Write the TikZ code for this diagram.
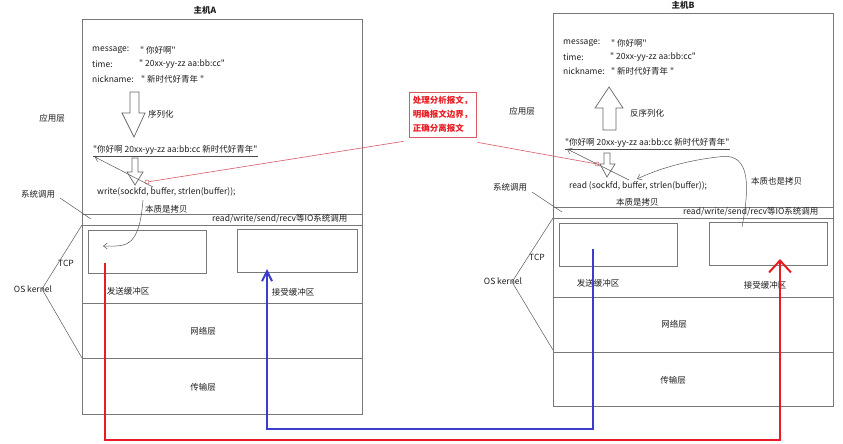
\documentclass[tikz,border=0pt]{standalone}
\usepackage{fontspec}
\newfontfamily\mainf{Noto Sans CJK SC}
\usetikzlibrary{arrows.meta}
\definecolor{boxgray}{RGB}{120,120,120}
\definecolor{txt}{RGB}{30,30,30}
\definecolor{redpath}{RGB}{232,28,36}
\definecolor{bluepath}{RGB}{60,60,205}
\definecolor{thinred}{RGB}{215,90,100}
\begin{document}
\begin{tikzpicture}[x=1pt,y=-1pt,
  every node/.style={inner sep=0pt, font=\mainf\fontsize{8.5}{10}\selectfont, text=txt},
  lbl/.style={anchor=west},
  boxline/.style={draw=boxgray, line width=0.8pt},
  thinline/.style={draw=black!65, line width=0.5pt},
  fatarrow/.style={draw=black!60, line width=0.7pt, fill=white},
  redthin/.style={draw=thinred, line width=0.6pt},
  tiparrow/.style={-{Straight Barb[length=4pt,width=6pt]}},
  redpathstyle/.style={draw=redpath, line width=2.2pt, line join=miter, -{Straight Barb[length=12pt,width=22pt,line width=2pt]}},
  bluepathstyle/.style={draw=bluepath, line width=2.2pt, line join=miter, -{Straight Barb[length=10pt,width=10pt,line width=2pt]}},
  ringstyle/.style={circle, draw=thinred, line width=0.5pt, minimum size=4pt}
]
\useasboundingbox (0,0) rectangle (843,444);
\fill[white] (0,0) rectangle (843,444);

% ---------------- Host A ----------------
\node[font=\mainf\bfseries\fontsize{8.5}{10}\selectfont] (titleA) at (205,10) {主机A};
\draw[boxline] (82,19) rectangle (362,414);
\draw[boxline] (82,214) -- (362,214);
\draw[boxline] (82,225) -- (362,225);
\draw[boxline] (82,303) -- (362,303);
\draw[boxline] (82,358) -- (362,358);
\draw[boxline] (88,230) rectangle (206,273);
\draw[boxline] (237,229) rectangle (357,272);

\node[lbl] (msgA) at (92,50) {message:};
\node[lbl] (msgvA) at (140,50) {" 你好啊"};
\node[lbl] (timeA) at (92,64) {time:};
\node[lbl] (timevA) at (139,64) {" 20xx-yy-zz aa:bb:cc"};
\node[lbl] (nickA) at (92,79) {nickname:};
\node[lbl] (nickvA) at (141,79) {" 新时代好青年 "};

\draw[fatarrow] (130,92) -- (139,92) -- (139,113) -- (145,113) -- (134,137) -- (122,113) -- (130,113) -- cycle;
\node[lbl] (serlabel) at (148,114) {序列化};

\node[lbl] (serA) at (93,150) {"你好啊 20xx-yy-zz aa:bb:cc 新时代好青年"};
\draw[black!70, line width=0.5pt] ([yshift=-1.5pt]serA.south west) -- ([yshift=-1.5pt]serA.south east);

\draw[fatarrow] (132,158) -- (138,158) -- (138,172) -- (143,172) -- (135,185) -- (127,172) -- (132,172) -- cycle;

\node[lbl] (writeA) at (97,192) {write(sockfd, buffer, strlen(buffer));};
\node[lbl] (copyA) at (145,209) {本质是拷贝};
\node[lbl] (ioA) at (212,219) {read/write/send/recv等IO系统调用};

\node (appA) at (52,118) {应用层};
\node (sysA) at (38,194) {系统调用};
\node (tcpA) at (66,263) {TCP};
\node (osA) at (33,289) {OS kernel};
\node (sendA) at (128,291) {发送缓冲区};
\node (recvA) at (293,292) {接受缓冲区};
\node (netA) at (203,331) {网络层};
\node (transA) at (203,387) {传输层};

\coordinate (sysAfrom) at (60,198);
\coordinate (sysAto) at (91,219);
\draw[thinline] (sysAfrom) -- (sysAto);
\coordinate (kAtop) at (82,225);
\coordinate (kAmid) at (42,289);
\coordinate (kAbot) at (82,358);
\draw[thinline] (kAtop) -- (kAmid) -- (kAbot);

\coordinate (bufA) at (153,187);
\coordinate (serAstart) at (95,157);
\draw[thinline, tiparrow] (bufA) -- (serAstart);

\coordinate (copyAstart) at (143,200);
\coordinate (copyAend) at (103,246);
\draw[thinline, tiparrow] (copyAstart) .. controls (139,250) and (125,246) .. (copyAend);

% ---------------- Host B ----------------
\node[font=\mainf\bfseries\fontsize{8.5}{10}\selectfont] (titleB) at (683,5) {主机B};
\draw[boxline] (553,13) rectangle (833,406);
\draw[boxline] (553,207) -- (833,207);
\draw[boxline] (553,218) -- (833,218);
\draw[boxline] (553,297) -- (833,297);
\draw[boxline] (553,352) -- (833,352);
\draw[boxline] (559,223) rectangle (677,266);
\draw[boxline] (709,222) rectangle (827,265);

\node[lbl] (msgB) at (563,43) {message:};
\node[lbl] (msgvB) at (611,43) {" 你好啊"};
\node[lbl] (timeB) at (563,57) {time:};
\node[lbl] (timevB) at (610,57) {" 20xx-yy-zz aa:bb:cc"};
\node[lbl] (nickB) at (563,71) {nickname:};
\node[lbl] (nickvB) at (611,71) {" 新时代好青年 "};

\draw[fatarrow] (603,130) -- (616,130) -- (616,108) -- (623,108) -- (609,87) -- (595,108) -- (603,108) -- cycle;
\node[lbl] (deserlabel) at (630,113) {反序列化};

\node[lbl] (serB) at (565,143) {"你好啊 20xx-yy-zz aa:bb:cc 新时代好青年"};
\draw[black!70, line width=0.5pt] ([yshift=-1.5pt]serB.south west) -- ([yshift=-1.5pt]serB.south east);

\draw[fatarrow] (604,153) -- (610,153) -- (610,164) -- (615,164) -- (607,177) -- (600,164) -- (604,164) -- cycle;

\node[lbl] (readB) at (569,186) {read (sockfd, buffer, strlen(buffer));};
\node[lbl] (copyB) at (616,202) {本质是拷贝};
\node[lbl] (copyB2) at (751,181) {本质也是拷贝};
\node[lbl] (ioB) at (683,212) {read/write/send/recv等IO系统调用};

\node (appB) at (522,111) {应用层};
\node (sysB) at (510,187) {系统调用};
\node (tcpB) at (537,257) {TCP};
\node (osB) at (503,281) {OS kernel};
\node (sendB) at (598,283) {发送缓冲区};
\node (recvB) at (765,285) {接受缓冲区};
\node (netB) at (674,324) {网络层};
\node (transB) at (673,380) {传输层};

\coordinate (sysBfrom) at (532,192);
\coordinate (sysBto) at (562,212);
\draw[thinline] (sysBfrom) -- (sysBto);
\coordinate (kBtop) at (553,218);
\coordinate (kBmid) at (512,282);
\coordinate (kBbot) at (553,350);
\draw[thinline] (kBtop) -- (kBmid) -- (kBbot);

\coordinate (bufB) at (629,180);
\coordinate (serBstart) at (567,149);
\draw[thinline, tiparrow] (bufB) -- (serBstart);

\coordinate (copyBstart) at (742,227);
\coordinate (copyBtop) at (718,157);
\coordinate (copyBend) at (637,179);
\draw[thinline, tiparrow] (copyBstart) .. controls (752,175) and (746,152) .. (copyBtop) .. controls (690,160) and (660,168) .. (copyBend);

% ---------------- middle note ----------------
\node[draw=thinred, line width=0.6pt, text=redpath, font=\mainf\bfseries\fontsize{8.5}{14}\selectfont, align=left, minimum width=67pt, minimum height=45pt] (note) at (442.5,114.5) {处理分析报文，\\明确报文边界，\\正确分离报文};
\node[ringstyle] (ringA) at (147,182) {};
\node[ringstyle] (ringB) at (597,164) {};
\draw[redthin] ([xshift=-5pt,yshift=-4pt]note.south west) -- (ringA);
\draw[redthin] ([xshift=1pt,yshift=-5pt]note.south east) -- (ringB);

% ---------------- data paths ----------------
\coordinate (redstart) at (105,263);
\coordinate (redc1) at (105,440);
\coordinate (redc2) at (780,440);
\coordinate (redend) at (780,259);
\draw[redpathstyle] (redstart) -- (redc1) -- (redc2) -- (redend);

\coordinate (bluestart) at (593,249);
\coordinate (bluec1) at (593,429);
\coordinate (bluec2) at (267,429);
\coordinate (blueend) at (267,269);
\draw[bluepathstyle] (bluestart) -- (bluec1) -- (bluec2) -- (blueend);
\end{tikzpicture}
\end{document}
